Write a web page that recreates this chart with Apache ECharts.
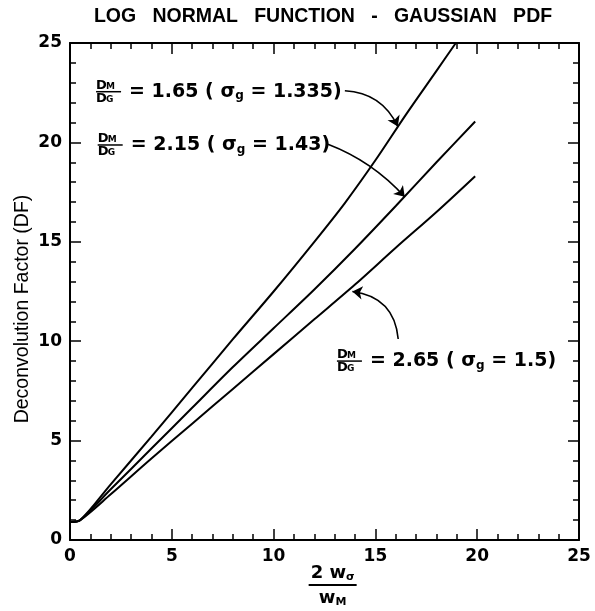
<!DOCTYPE html>
<html>
<head>
<meta charset="utf-8">
<script src="https://cdn.jsdelivr.net/npm/echarts@6/dist/echarts.min.js"></script>
<style>
html, body { margin: 0; padding: 0; background: #fff; }
#main { width: 595px; height: 611px; }
</style>
</head>
<body>
<div id="main"></div>
<script>
// x = 2 w_sigma / w_M, y = deconvolution factor
const xRatio165 = [0, 0.5, 2, 4, 6, 8, 10, 12, 13.5, 15, 16.5, 18, 18.95];
const dfRatio165 = [0.9, 1.0, 2.8, 5.2, 7.65, 10.1, 12.5, 15.0, 16.95, 19.1, 21.4, 23.6, 25.0];
const xRatio215 = [0, 0.5, 2, 4, 6, 8, 10, 12, 14, 16, 18, 19.9];
const dfRatio215 = [0.9, 1.0, 2.55, 4.6, 6.65, 8.7, 10.65, 12.6, 14.65, 16.8, 19.0, 21.05];
const xRatio265 = [0, 0.5, 2, 4, 6, 8, 10, 12, 14, 16, 18, 19.9];
const dfRatio265 = [0.9, 1.0, 2.3, 4.1, 5.85, 7.6, 9.35, 11.1, 12.85, 14.7, 16.5, 18.3];

// annotations (label anchor, arrow tail, arrow head, bend)
const noteValue = ['1.65', '2.15', '2.65'];
const noteSigma = ['1.335', '1.43', '1.5'];
const noteAt = [[1.28, 22.55], [1.36, 19.87], [13.11, 9.0]];
const arrowFrom = [[13.5, 22.6], [12.67, 19.91], [16.12, 10.11]];
const arrowTo = [[16.1, 20.8], [16.44, 17.26], [13.87, 12.5]];
const arrowBend = [0.3, 0.12, -0.4];

const FONT = 'DejaVu Sans';

const chart = echarts.init(document.getElementById('main'));

function pairs(xs, ys) {
    return xs.map((x, i) => [x, ys[i]]);
}

function makeAxis(pos, showLabel) {
    return {
        type: 'value',
        position: pos,
        min: 0,
        max: 25,
        interval: 5,
        axisLine: { show: true, onZero: false, lineStyle: { color: '#000', width: 2 } },
        axisTick: { show: true, inside: true, length: 11, lineStyle: { color: '#000', width: 1.5 } },
        minorTick: { show: true, splitNumber: 5, length: 6, lineStyle: { color: '#000', width: 1.5 } },
        splitLine: { show: false },
        axisLabel: {
            show: showLabel,
            margin: 8,
            showMinLabel: true,
            showMaxLabel: true,
            color: '#000',
            fontFamily: FONT,
            fontWeight: 'bold',
            fontSize: 17
        }
    };
}

const curveStyle = { color: '#000', width: 2 };

const option = {
    animation: false,
    backgroundColor: '#fff',
    title: {
        text: 'LOG   NORMAL   FUNCTION   -   GAUSSIAN   PDF',
        left: 318,
        top: 2,
        textAlign: 'center',
        textStyle: { fontFamily: 'Liberation Sans', fontWeight: 'bold', fontSize: 19.5, color: '#000' }
    },
    grid: { left: 70, right: 16, top: 43, bottom: 71, containLabel: false, outerBoundsMode: 'none' },
    xAxis: [makeAxis('bottom', true), makeAxis('top', false)],
    yAxis: [makeAxis('left', true), makeAxis('right', false)],
    series: [
        { type: 'line', data: pairs(xRatio165, dfRatio165), smooth: 0.3, showSymbol: false, lineStyle: curveStyle, silent: true },
        { type: 'line', data: pairs(xRatio215, dfRatio215), smooth: 0.3, showSymbol: false, lineStyle: curveStyle, silent: true },
        { type: 'line', data: pairs(xRatio265, dfRatio265), smooth: 0.3, showSymbol: false, lineStyle: curveStyle, silent: true },
        {
            type: 'lines',
            coordinateSystem: 'cartesian2d',
            symbol: ['none', 'arrow'],
            symbolSize: 10,
            silent: true,
            lineStyle: { color: '#000', width: 1.6, opacity: 1 },
            data: arrowFrom.map((p, i) => ({
                coords: [p, arrowTo[i]],
                lineStyle: { curveness: arrowBend[i] }
            }))
        }
    ]
};

chart.setOption(option);

function txt(x, y, text, size, extra) {
    return {
        type: 'text', x: x, y: y, silent: true,
        style: Object.assign({
            text: text, fontFamily: FONT, fontWeight: 'bold', fontSize: size,
            fill: '#000', verticalAlign: 'middle'
        }, extra || {})
    };
}

const subRich = {
    sg: { fontFamily: FONT, fontWeight: 'bold', fontSize: 19, color: '#000' },
    sb: { fontFamily: FONT, fontWeight: 'bold', fontSize: 12, color: '#000', padding: [9, 0, 0, 0] }
};

// D_M / D_G fraction plus the rest of the label
function ratioNote(i) {
    return [
        txt(0, -6, 'D', 13, { align: 'left' }),
        txt(10, -5, 'M', 9, { align: 'left' }),
        { type: 'line', silent: true, shape: { x1: 0, y1: 0, x2: 25, y2: 0 }, style: { stroke: '#000', lineWidth: 1.5 } },
        txt(0, 7, 'D', 13, { align: 'left' }),
        txt(10, 8, 'G', 9, { align: 'left' }),
        txt(33, 0, '= ' + noteValue[i] + ' ( {sg|σ}{sb|g} = ' + noteSigma[i] + ')', 19, { align: 'left', rich: subRich })
    ];
}

const toPx = p => chart.convertToPixel({ xAxisIndex: 0, yAxisIndex: 0 }, p);
const graphics = noteAt.map((p, i) => {
    const q = toPx(p);
    return { type: 'group', x: q[0], y: q[1], children: ratioNote(i) };
});

// x axis name: 2 w_sigma / w_M
const origin = toPx([0, 0]);
const nameX = toPx([12.9, 0])[0];
const nameSub = { xs: { fontFamily: FONT, fontWeight: 'bold', fontSize: 11, color: '#000', padding: [8, 0, 0, 0] } };
graphics.push({
    type: 'group', x: nameX, y: origin[1],
    children: [
        txt(0, 33, '2 w{xs|σ}', 18, { align: 'center', rich: nameSub }),
        { type: 'line', silent: true, shape: { x1: -24, y1: 45, x2: 24, y2: 45 }, style: { stroke: '#000', lineWidth: 2 } },
        txt(0, 58, 'w{xs|M}', 18, { align: 'center', rich: nameSub })
    ]
});

// y axis name
graphics.push({
    type: 'text', x: origin[0] - 47, y: 309, rotation: Math.PI / 2, silent: true,
    style: {
        text: 'Deconvolution Factor (DF)', fontFamily: 'Liberation Sans', fontSize: 19.5,
        fill: '#000', align: 'center', verticalAlign: 'middle'
    }
});

chart.setOption({ graphic: graphics });
</script>
</body>
</html>
